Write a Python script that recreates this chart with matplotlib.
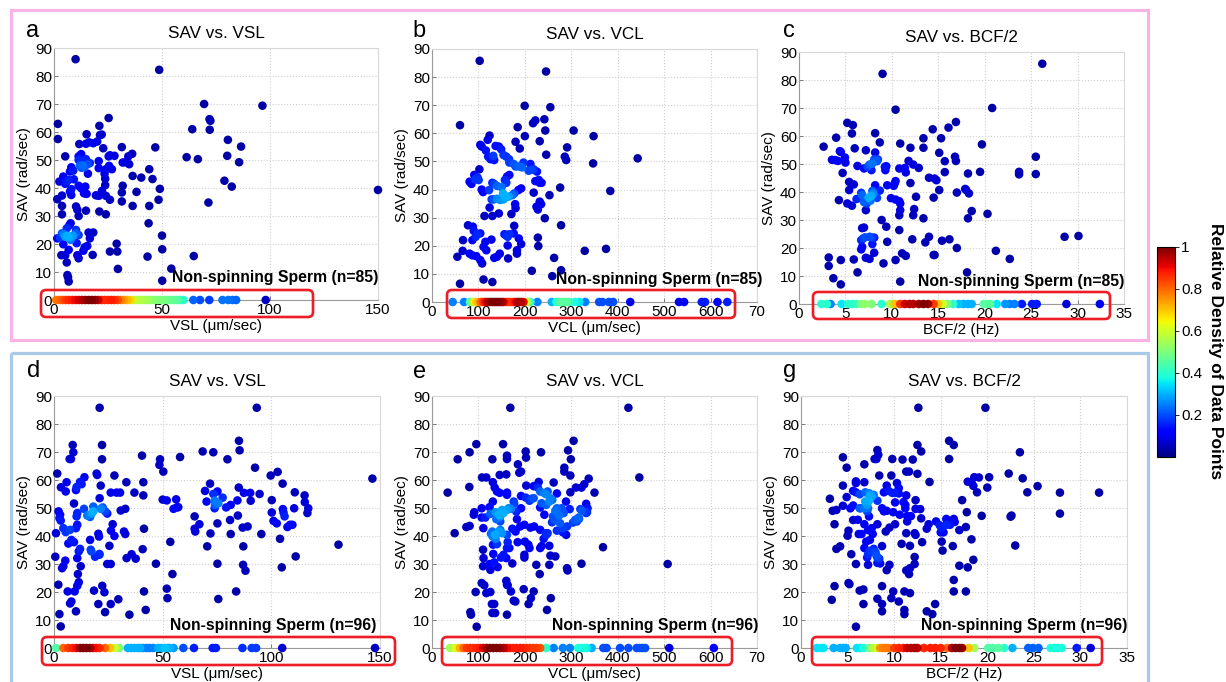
import numpy as np
import matplotlib
matplotlib.use('Agg')
import matplotlib.pyplot as plt
from matplotlib.patches import Rectangle, FancyBboxPatch
from matplotlib.transforms import Affine2D
from matplotlib.colors import Normalize
from matplotlib.cm import ScalarMappable

plt.rcParams['font.family'] = ['Liberation Sans', 'DejaVu Sans']

FIG_W, FIG_H, DPI = 1226, 682, 100

# ---- scatter data: (x, SAV) pairs ----
top_vsl = np.array([
    (10, 86), (48.7, 82.2), (69.5, 70), (96.5, 69.4), (72, 64.6), (72.4, 64), (64, 61), (72.1, 60.8), (80.5, 57.2), (86.6, 54.8),
    (61.4, 51), (66.6, 50.3), (80.2, 51.5), (85.7, 49.2), (78.9, 42.6), (82.3, 40.5), (71.5, 34.8), (150, 39.3), (64.7, 15.7), (25.3, 65),
    (1.8, 62.9), (1.8, 57.5), (46.9, 54.5), (31.4, 54.6), (2.5, 42.3), (1.5, 36), (49, 39.7), (44.1, 46.7), (45.6, 43.2), (40.4, 43.7),
    (38.2, 38.6), (36.4, 33.6), (44.1, 33.6), (48.4, 35.8), (43.8, 27.4), (43.3, 15.5), (50, 23), (50.1, 18.1), (54.3, 11.2), (50.1, 6.9),
    (29, 20.1), (29.3, 17.3), (29.6, 11.1), (25.9, 17.3), (31.4, 38.4), (31.8, 40.8), (31.4, 35.2), (31.8, 49.1), (33, 49.2), (34.8, 48.5),
    (34.4, 51.3), (36.2, 52.2), (36.4, 44.3), (25.9, 35.8), (24, 30.6), (23.7, 43.3), (24, 37.2), (22.2, 39), (20.7, 37.2), (19.4, 37.4),
    (21, 31.6), (22.8, 54.2), (21.3, 58.9), (21, 62.2), (22.1, 59.1), (20, 56.6), (18.2, 56), (16.3, 56.3), (15.1, 59.2), (14.8, 55.8),
    (11.7, 55.7), (14.8, 50.3), (16.6, 48.9), (15.4, 48.4), (12.6, 52.1), (11.4, 51.3), (20.7, 49.6), (20.7, 47.1), (25.3, 51.3), (25.9, 51.7),
    (28, 51.5), (26.8, 46.7), (25.5, 47.9), (24, 46.7), (23.4, 45.1), (23.7, 41), (15.7, 45.1), (13.3, 48), (12, 48), (11.4, 50),
    (8, 47.4), (8.9, 46.2), (7.4, 45.9), (9.2, 43.1), (6.8, 42.9), (5.2, 41.5), (5.9, 42.3), (4.3, 44.1), (5.2, 51.3), (3.7, 37.3),
    (3.7, 33.6), (3.7, 30.6), (8, 39.6), (7.4, 38.7), (8, 37.5), (11.4, 40.8), (12.6, 39.9), (13.9, 38.1), (14.5, 40.5), (15.1, 37.9),
    (10.2, 33.4), (10.8, 32.2), (11.4, 30), (14.8, 31.9), (7.7, 27.4), (7.1, 26.7), (5.9, 25.6), (1.5, 22), (2.8, 22.3), (3.7, 23.8),
    (4.5, 23.5), (5.2, 22.6), (6.2, 22.9), (7.1, 22.3), (7.7, 21.5), (8.8, 23), (4.3, 19.9), (6.8, 17.9), (3.4, 16), (5.2, 16),
    (5.9, 13.4), (6.2, 8.9), (6.5, 8.1), (6.8, 6.6), (10.2, 25), (10.2, 23.8), (11.4, 23.2), (10.5, 20.3), (10.8, 16), (11.4, 14.9),
    (14.2, 18.8), (15.4, 19.3), (13.6, 17.6), (16, 24.1), (18.2, 24.1), (16.6, 22), (17.9, 16.1), (12.8, 47.2), (14, 47.5),
])

top_vcl = np.array([
    (102.7, 85.8), (245.6, 82), (199.6, 69.8), (254.9, 69.3), (60.3, 62.9), (217.6, 63.6), (222.6, 64.6), (242, 65), (184.5, 62.2), (305, 61),
    (244, 61), (348, 59), (200, 59), (104, 55.9), (107, 55.3), (124, 59.2), (120, 57.7), (180, 57), (232, 57.2), (189, 54.6),
    (291, 55), (137, 55.5), (144, 55.3), (149, 54.3), (116, 53.9), (121, 51.7), (126, 50.8), (132, 52), (134, 50.5), (154, 52.3),
    (160, 51.7), (166, 50.8), (166.6, 49.6), (176, 49.1), (180, 48.2), (187, 48.2), (194, 47.9), (197, 49.6), (212, 49.1), (208, 46.7),
    (215, 47), (226, 46.4), (219, 47.2), (246, 52.4), (286, 51.7), (289, 50.5), (347, 49.3), (443, 51.1), (102, 47.2), (91, 45.2),
    (98, 44.3), (81, 42.8), (85, 42), (93, 43.6), (100.5, 43.4), (107, 40), (110, 39.1), (123, 39.8), (130, 42.4), (134, 42),
    (140, 41.3), (150, 40.8), (153, 38.6), (157, 43.4), (160, 42.4), (161.5, 44.6), (166.6, 45.2), (128.5, 36.5), (133, 36.5), (140, 36.7),
    (147, 36.3), (154, 36.5), (159, 37.2), (165, 37.5), (173, 38), (177, 38.6), (186, 39.8), (192, 40.4), (219, 38.9), (232, 42.4),
    (236, 42.4), (222.6, 43), (230, 43.4), (225, 33.9), (228, 32.9), (232, 35.7), (235, 34.8), (253, 38), (243, 29.8), (276, 40.7),
    (384, 39.5), (124, 33.6), (130, 30.6), (113, 30.6), (144, 31.5), (171, 31.3), (179, 34.8), (180, 33.4), (177, 27.1), (176, 24.4),
    (166, 24.1), (159, 23.8), (163, 23.2), (156, 24.1), (163, 20.1), (164, 15.5), (183, 18.4), (183, 17.2), (187, 22.6), (192, 20.6),
    (228, 22.9), (229, 19.9), (278, 27.3), (263, 15.7), (278, 11.3), (215, 11.1), (259, 9.2), (329, 18.2), (374.8, 18.9), (77.5, 27.3),
    (66, 18.2), (54.6, 16.1), (60.3, 6.5), (66.8, 22), (90, 25.3), (88, 26.8), (87, 22), (94, 23.2), (98, 24.1), (104, 24.4),
    (81, 17.2), (87, 16.6), (95.5, 16.3), (104, 14.9), (108, 13.7), (111, 19.6), (117, 18.4), (115, 21.4), (128, 22.2), (134, 15.7),
    (140, 16.1), (146, 17.2), (111, 8), (130, 7.1),
])

top_bcf = np.array([
    (26.2, 85.8), (9, 82.2), (20.8, 70), (10.4, 69.4), (5.2, 64.7), (5.8, 63.9), (16.9, 65), (16.1, 63), (14.4, 62.4), (4, 59.4),
    (5.7, 60.9), (8.2, 61), (13.4, 59.2), (15.3, 59.2), (2.65, 56.2), (8.7, 57.7), (10.9, 57.3), (6, 55.6), (7.2, 54.9), (12, 55.8),
    (13.4, 55.8), (19.7, 57), (4.4, 54.6), (4.5, 54.3), (8.2, 54.1), (15.1, 54), (3.55, 51.5), (3.9, 51.4), (4.2, 51.1), (4.95, 52.3),
    (5, 50.5), (6.3, 49.3), (7.4, 49), (7.6, 49.8), (7.9, 50.2), (8.4, 51), (8.5, 51.6), (8.1, 51.6), (9.25, 49), (9.4, 49.2),
    (9.3, 47.8), (7.8, 47.8), (7, 48.4), (4.7, 46.8), (10.8, 48.4), (11.4, 48.6), (11.5, 47), (11.8, 51.1), (12.3, 49.8), (12.9, 48.6),
    (15.7, 51), (16.8, 52.6), (16.9, 51.1), (25.5, 52.6), (18.2, 46.6), (19.5, 47.2), (23.7, 47.2), (23.7, 46.3), (25.5, 46.4), (15.7, 47.1),
    (14.6, 44.8), (14.8, 44.2), (14, 45.1), (12, 43.2), (10.4, 43.9), (10.3, 43), (10.2, 42.2), (5.4, 43.6), (5.9, 42.7), (5.4, 40.7),
    (8.2, 42.4), (9.5, 42.4), (15.1, 40.7), (17.9, 41.1), (18, 40.7), (18.3, 39.5), (17, 39.8), (8.7, 40.5), (7.9, 40.4), (8, 39.5),
    (7.8, 38.6), (6.7, 39.7), (6.8, 38.9), (7.5, 38), (7.7, 36.9), (7, 36.4), (7.3, 35.9), (8.4, 37.9), (6.2, 37.5), (4.3, 37.1),
    (5.2, 35.9), (5.7, 35.1), (9.9, 37.8), (10.4, 37.3), (10.8, 36.7), (10.9, 35.9), (7.2, 33.5), (10.9, 33.5), (12.4, 33.9), (12.6, 38.3),
    (14.5, 38), (18.6, 33.2), (12.3, 31.7), (10.8, 31.7), (13.4, 30.6), (18.2, 30.6), (20.3, 32.2), (8.9, 30), (9.4, 27.6), (6.8, 27.1),
    (7, 27.3), (10.8, 26.4), (7.6, 24), (7.9, 23.7), (8.1, 23.7), (6.7, 22.8), (6.9, 23.4), (7.1, 23.8), (6.8, 20.4), (6.7, 19.5),
    (7.9, 21.4), (9.5, 22.2), (14, 24), (13.6, 22), (12.2, 23.1), (15.4, 22.6), (16.2, 23.1), (17, 20), (14.6, 17.5), (14.5, 17.5),
    (11.1, 18.1), (11.5, 17.2), (8.1, 18.3), (7.2, 16.5), (7.6, 16.1), (21.2, 19), (22.7, 16.1), (10.4, 15.7), (5.9, 15.9), (4.5, 15.7),
    (9.1, 14.5), (3.2, 16.6), (3.2, 13.6), (3.7, 9.2), (4.5, 7), (6.3, 11.3), (18.1, 11.3), (10.9, 8), (28.6, 24), (30.1, 24.3),
])

bot_vsl = np.array([
    (21, 85.8), (93.3, 85.8), (8.6, 72.5), (8.9, 69.9), (22.1, 72.5), (7.2, 67.5), (7.8, 67.5), (22.1, 67.4), (85.1, 74), (85.4, 70.6),
    (68.4, 70.2), (73.3, 69.9), (79.8, 67.4), (58, 68.2), (40.5, 68.7), (48.8, 67.4), (48.5, 65.4), (50.3, 63), (92.5, 64.4), (99.7, 61.6),
    (102.9, 62.9), (105.2, 58.7), (146.5, 60.5), (1.5, 62.3), (14, 61), (19.6, 62.3), (19.9, 61.8), (21.5, 58), (27.8, 61.6), (33.3, 59.2),
    (41.1, 59.2), (37, 55.5), (41.1, 54.5), (3.2, 57.4), (5.8, 59.2), (12, 59.3), (12.7, 58.5), (10.4, 57.5), (10.1, 56.4), (5.4, 55.9),
    (26.1, 55.5), (28.8, 55.5), (30.4, 55.5), (21, 53.5), (69.5, 56.1), (71.8, 58.7), (75.2, 55.9), (73.3, 55), (73.9, 52.6), (74.1, 51.1),
    (70.2, 52.3), (77.6, 53.7), (85, 57.3), (87.4, 55.4), (90.3, 55.4), (94.6, 55), (84.4, 52.7), (90.5, 52.6), (100.2, 52.8), (110.8, 55.6),
    (115.3, 54.5), (115.4, 52.1), (117, 49.9), (116.6, 48.2), (110.5, 49.9), (105.3, 49.6), (105.6, 48.4), (106.1, 47), (100.2, 48.4), (101, 45.4),
    (102.5, 44.5), (107.4, 43.2), (108.6, 44), (109.7, 44), (104, 39), (95.4, 40.7), (111.2, 32.7), (104.8, 28.8), (130.9, 36.9), (86.8, 43),
    (89.1, 43.4), (81, 45.7), (84.6, 47.3), (81.3, 51.1), (79.2, 50.2), (75.6, 51.7), (73.9, 49.9), (75.2, 44.5), (72, 40.9), (81.3, 40.7),
    (70.5, 36.3), (87.1, 36.3), (87, 29.7), (88.1, 27.6), (75.2, 30.1), (83.8, 20.2), (75.6, 17.5), (64.7, 47), (64.7, 42.6), (65, 41.6),
    (66.9, 44.2), (50, 53), (51.9, 52.7), (56.2, 53.1), (55, 49.7), (56.5, 50.2), (57.2, 50.3), (53.5, 37.9), (54.5, 26.4), (51.9, 21.2),
    (52.2, 17.8), (46.9, 30.1), (41.4, 42.6), (40.8, 35.3), (41.4, 20.2), (42.2, 13.6), (35.7, 33.5), (37.6, 31.9), (33.4, 32.1), (34.7, 11.9),
    (29.6, 17.4), (26.1, 15.7), (23.5, 12.8), (23.2, 19.9), (22.2, 22.2), (18.4, 20.5), (20.4, 15.7), (24.5, 30), (26.1, 30), (25.5, 36.5),
    (27.8, 40), (32.2, 41.6), (32.8, 40.7), (26.2, 41.9), (27, 44.2), (30.7, 49.1), (32.8, 49.7), (23.6, 48.8), (24.5, 48), (21.5, 49.7),
    (22.4, 50.2), (18.1, 50.5), (18.1, 48.8), (15.3, 47.3), (16.6, 46.8), (17.3, 48), (13.8, 49.7), (10.4, 47), (10.7, 48.2), (10.1, 42.8),
    (10.7, 44), (9.2, 51.6), (2.1, 48.8), (2.8, 47.6), (2.5, 46.4), (3.1, 45.5), (4.3, 42.8), (5.4, 41.4), (7.4, 42.2), (0.9, 41),
    (8, 38.6), (9.2, 37.8), (6.6, 37.3), (12, 35.4), (11.4, 34.5), (10.7, 32.1), (12.3, 29.2), (16.6, 38.6), (16.9, 35.1), (17.2, 34.5),
    (18.9, 32.6), (20.9, 33.6), (20.9, 33.3), (20.4, 40.8), (20.7, 39.8), (5.2, 31.2), (4.3, 29.2), (3.7, 28.5), (0.6, 32.6), (11, 26.4),
    (11.4, 23.5), (10.7, 22.2), (9.5, 20.2), (6.3, 20.2), (8, 16.6), (7.4, 15.9), (10.1, 13.1), (2, 22.6), (2.5, 12.1), (3.1, 7.7),
])

bot_vcl = np.array([
    (168.7, 85.8), (423, 85.8), (95.5, 72.8), (153, 72.8), (305, 74), (81, 69.9), (55.3, 67.4), (130, 67.4), (161.5, 68.7), (161.5, 67.5),
    (201.8, 70.2), (202.5, 68), (234.8, 69.9), (293, 70.6), (299, 67.4), (185, 65.6), (191.7, 63), (188, 62.6), (285, 64.4), (285, 63),
    (298, 61.6), (160, 62), (145.8, 61.8), (107.7, 60.9), (117, 60.9), (446.6, 60.9), (33.7, 55.5), (48.8, 41), (80.4, 57.5), (131, 59.2),
    (135, 57.3), (140, 55.9), (145.8, 55.4), (161.5, 55.5), (161.5, 54.7), (191.7, 54.3), (203, 58), (219, 57.8), (229.8, 59.3), (228, 57.3),
    (233, 55.9), (242, 55.3), (249, 55.9), (246, 54.9), (262, 59.1), (269, 55.2), (298, 55.6), (310, 57.3), (322, 57.3), (328, 58.5),
    (337.5, 60.5), (350, 55.5), (332, 51.5), (332, 48.2), (319.5, 49.6), (316, 46.6), (312, 45.2), (316.6, 46.1), (288.6, 52.3), (296.5, 49.6),
    (279, 49.9), (283.6, 48.2), (273.6, 47.3), (269, 49.9), (265.6, 49), (260.6, 47), (263.5, 45.8), (258.5, 44.9), (255, 53.5), (252.7, 52.3),
    (259, 52.9), (246, 51.1), (242, 47.6), (233, 50.2), (236, 51.7), (219, 53.5), (210, 52.6), (214, 53.3), (202, 53.7), (191.7, 49.9),
    (176, 52.3), (177, 51.6), (181.6, 48.7), (165, 49.9), (161.5, 49.3), (170, 49.7), (150.8, 49.3), (154, 48.2), (137, 48.5), (143.6, 47.6),
    (147, 47), (138.6, 46), (124, 50.3), (125.7, 47.9), (131, 52.3), (147, 45.2), (107, 49.9), (107, 46.6), (115, 46.6), (91, 48.5),
    (90, 47.6), (81, 43.6), (74, 43.2), (110.6, 42.8), (183, 46), (180, 41.6), (199, 44), (212, 43), (220, 43.4), (233, 42.2),
    (245, 41), (249, 41), (246, 40.4), (240.5, 39), (233, 35.7), (236, 36.4), (252.7, 36.5), (282, 42.8), (282, 41.3), (269, 41.9),
    (275.7, 44.6), (289, 40.4), (290.8, 43.4), (303.7, 44.8), (308.7, 45.8), (333.9, 48.5), (335, 49.9), (323, 49), (368.3, 36), (507.6, 30),
    (322, 30.1), (292, 27.7), (290.8, 28.5), (265.6, 32.7), (252.7, 29.7), (224.7, 29.7), (232, 26.4), (207.5, 36.9), (210, 35.7), (199, 33.3),
    (199, 32.3), (184.5, 37.8), (200, 38), (190, 43.4), (173, 42.6), (161.5, 40.4), (147, 42.2), (144, 41.6), (150.8, 41), (163, 37.8),
    (161.5, 35.7), (166.6, 35.7), (173, 30.2), (154, 33.3), (160, 32.1), (148.6, 32.3), (135.7, 40.4), (130, 41.6), (130.7, 39.8), (127, 40.8),
    (137, 39), (140, 37.1), (131.4, 36.9), (132, 33.6), (134, 30.6), (141.4, 28.9), (125.7, 27.9), (124, 30), (110, 35.1), (111, 32.1),
    (110, 29.2), (107, 23.2), (112.7, 22.4), (117, 19.6), (125.7, 20), (94, 20), (82.6, 12.8), (84, 11.9), (96.2, 7.6), (130, 12.5),
    (136, 12.5), (129, 15.7), (134, 15.7), (160, 24), (161.5, 22.6), (163, 22.4), (170, 20.2), (161.5, 11.9), (179.5, 16.6), (176, 16.9),
    (197.5, 21), (213, 17.8), (208, 15.7), (219, 20.2), (247.7, 13.6), (256, 17.8), (255, 33),
])

bot_bcf = np.array([
    (12.6, 85.8), (19.8, 85.8), (15.9, 74), (16.4, 72.5), (12.5, 72.5), (12.9, 70.2), (23.5, 69.9), (8.2, 70.7), (8.3, 69), (8.1, 67.5),
    (7.9, 67.5), (4.5, 68.1), (4.9, 64.4), (6.8, 65.6), (9.8, 67.5), (10.9, 67.3), (12, 67.3), (15.9, 67.5), (11.3, 63), (11.6, 63),
    (12.5, 62.2), (8.4, 61.6), (9.7, 61.6), (13.8, 59.3), (22.3, 62.3), (23.8, 60.6), (20.2, 61), (18.6, 61), (19.1, 60.9), (18.3, 59.2),
    (17.9, 59.4), (18.5, 57.9), (18.9, 55.6), (20, 57.3), (24.3, 55.6), (25.4, 57.8), (27.8, 55.5), (32, 55.5), (27.8, 48), (17.3, 52.8),
    (17.8, 48.5), (19.4, 47.2), (22.5, 46.9), (22.6, 47.3), (23, 36.6), (4.5, 58), (5.9, 58.9), (5.9, 59.5), (6.8, 59.2), (3.1, 53.3),
    (3.4, 49), (3.8, 49.3), (3.6, 44.2), (4.9, 53.9), (4.5, 50.8), (5.6, 56.1), (5.9, 55.6), (6.3, 54.9), (5.3, 49.9), (5.6, 50.9),
    (5.6, 45.7), (6.1, 45.8), (6.3, 49.9), (6.4, 49.9), (6.9, 52.3), (7.1, 51.1), (7.3, 52.6), (7.4, 54.7), (6.9, 55.6), (7.3, 55.3),
    (6.8, 49.9), (7.2, 49.9), (7.1, 48.8), (7.3, 47), (7.6, 54.1), (7.4, 54.3), (7.8, 54.7), (8.2, 52.6), (8.7, 49.9), (8.9, 48.8),
    (9.2, 49), (9.9, 48.5), (9.2, 58), (9.4, 56.1), (8.9, 55.6), (9.8, 55.4), (10.1, 55.4), (10.3, 58.9), (10.5, 57.1), (10.5, 55.2),
    (10.1, 52), (10.6, 47.6), (11, 52.1), (11.2, 51.1), (11.2, 49.9), (11.3, 54.5), (11.4, 47.1), (11.8, 47.1), (11.4, 45.2), (12.3, 52.8),
    (12.3, 49.7), (12.8, 49.6), (12.9, 46.3), (13.7, 44.2), (13.5, 42.6), (14.5, 45.2), (14.9, 43.8), (15.1, 42.8), (15, 41.3), (15.3, 41.3),
    (15.6, 46.1), (15.6, 44), (16, 44), (16.4, 46.1), (16.5, 45), (17, 42.1), (17.7, 43.2), (16.3, 36.4), (15.1, 38), (15.2, 34.8),
    (13, 37.8), (11.7, 36.5), (11.3, 41), (12.2, 41), (12.3, 40.4), (10.8, 37.2), (10.1, 44.2), (9.5, 43), (9.1, 41.6), (8.2, 44.2),
    (7.6, 42.8), (7.2, 42.1), (7.7, 40.7), (7.4, 38.6), (7, 38), (6.5, 40.7), (6.2, 40.7), (6.8, 44.2), (5.1, 41.9), (5, 40.1),
    (4.2, 36.3), (3.8, 35.4), (5.4, 33.5), (5.9, 30), (6.8, 35.7), (7.2, 33.5), (7.1, 32.3), (7.4, 34.7), (7.8, 35.4), (8, 34.2),
    (8.1, 33), (8.2, 32.3), (8.4, 31.9), (8.2, 30.4), (8.5, 30.2), (8.7, 36.4), (7.2, 29.7), (9.2, 27.8), (9.5, 29.7), (12.2, 32.5),
    (12.2, 30), (11.3, 27.7), (11.7, 28.5), (11.6, 26.4), (17, 29.4), (17.9, 28.8), (18.5, 31.5), (18.3, 38.8), (16.4, 24.3), (16.4, 20.2),
    (17.7, 20.2), (9.9, 20.2), (9.7, 17.8), (10.5, 16.6), (11.1, 20.2), (11.7, 19.6), (8.7, 22.1), (8.2, 17.6), (8.7, 15.7), (8.7, 13.1),
    (11.1, 13.6), (11.1, 12.1), (13.5, 13.1), (14.1, 12.1), (14.4, 15.7), (6.3, 20.5), (6.7, 20.9), (6.7, 15.7), (5.1, 23.2), (5.2, 22.8),
    (3.6, 22.1), (3.3, 17.2), (5.9, 7.6),
])

# ---- non-spinning sperm strips: (x, relative density) ----
strip_top_vsl = np.array([
    (1, 0.78), (2.5, 0.8), (4, 0.82), (5.5, 0.85), (7, 0.87), (8.5, 0.88), (10, 0.9), (11.5, 0.92), (13, 0.95), (14.5, 0.97),
    (16, 1.0), (17.5, 1.0), (19, 0.98), (20.5, 0.93), (22, 0.87), (23.5, 0.86), (25, 0.87), (26.5, 0.88), (28, 0.86), (29.5, 0.83),
    (31, 0.77), (32.5, 0.74), (34, 0.71), (35.5, 0.68), (37.5, 0.58), (39, 0.57), (40.5, 0.56), (42, 0.55), (43.5, 0.54), (45, 0.52),
    (46.5, 0.51), (48, 0.5), (49.5, 0.5), (51, 0.49), (52.5, 0.48), (54, 0.47), (55.5, 0.47), (57, 0.45), (58.5, 0.42), (60, 0.4),
    (64.5, 0.22), (67.6, 0.2), (71.9, 0.18), (78, 0.24), (80.7, 0.24), (82.7, 0.23), (84.3, 0.22), (98, 0.06),
])
strip_top_vcl = np.array([
    (44.5, 0.25), (69, 0.25), (82, 0.45), (89, 0.6), (95, 0.68), (100, 0.72), (105, 0.8), (110, 0.85), (115, 0.9), (120, 0.95),
    (125, 0.98), (130, 1.0), (135, 1.0), (140, 1.0), (145, 0.98), (150, 0.97), (154, 0.93), (161, 0.86), (166, 0.85), (172, 0.85),
    (177, 0.88), (182, 0.93), (187, 0.96), (192, 0.95), (197, 0.9), (202, 0.62), (207, 0.5), (212, 0.4), (227, 0.25), (258, 0.3),
    (268, 0.38), (274, 0.44), (279, 0.46), (285, 0.46), (290, 0.45), (295, 0.42), (308, 0.38), (317, 0.35), (330, 0.25), (360, 0.2),
    (367, 0.2), (381, 0.2), (390, 0.2), (427, 0.1), (532, 0.1), (543, 0.1), (581, 0.15), (588, 0.15), (615, 0.12), (636, 0.15),
])
strip_top_bcf = np.array([
    (2.4, 0.4), (3.0, 0.4), (3.4, 0.25), (4.6, 0.35), (5.3, 0.4), (5.8, 0.4), (6.2, 0.42), (6.7, 0.5), (7.1, 0.52), (7.8, 0.5),
    (8.9, 0.4), (9.8, 0.55), (10.3, 0.7), (10.9, 0.85), (11.4, 0.93), (11.9, 0.95), (12.3, 0.95), (12.9, 0.97), (13.4, 1.0), (13.9, 0.98),
    (14.5, 0.85), (15, 0.7), (15.5, 0.6), (16, 0.5), (16.6, 0.4), (17.2, 0.32), (17.7, 0.3), (18.2, 0.3), (18.6, 0.3), (19.9, 0.45),
    (20.3, 0.46), (20.6, 0.45), (21.3, 0.35), (22.2, 0.27), (22.7, 0.25), (23.2, 0.25), (24, 0.15), (25.1, 0.15), (25.6, 0.15), (28.8, 0.08),
    (32.4, 0.1),
])
strip_bot_vsl = np.array([
    (0.9, 0.45), (4.3, 0.8), (6.6, 0.85), (8.5, 0.87), (10.4, 0.9), (12, 0.97), (13.5, 1.0), (15, 1.0), (16.6, 0.97), (18, 0.9),
    (19.5, 0.88), (21, 0.87), (23.5, 0.8), (25.8, 0.7), (28, 0.6), (30, 0.5), (34, 0.3), (35.5, 0.3), (37, 0.3), (38.5, 0.3),
    (39.6, 0.3), (41, 0.25), (42.5, 0.25), (44, 0.25), (45.7, 0.25), (48, 0.3), (49.5, 0.3), (51, 0.32), (52.3, 0.3), (53.4, 0.3),
    (55, 0.28), (59.5, 0.2), (64.4, 0.15), (73, 0.15), (74.5, 0.15), (86.7, 0.17), (91, 0.18), (93, 0.18), (105, 0.08), (147.7, 0.06),
])
strip_bot_vcl = np.array([
    (39, 0.55), (50, 0.62), (60, 0.72), (68, 0.8), (75, 0.85), (82, 0.86), (89, 0.86), (96, 0.87), (103, 0.88), (110, 0.92),
    (118, 0.97), (125, 1.0), (132, 1.0), (139, 1.0), (146, 0.98), (154, 0.95), (161, 0.9), (168, 0.88), (175, 0.87), (182, 0.88),
    (190, 0.88), (197, 0.87), (204, 0.86), (211, 0.85), (218, 0.85), (225, 0.84), (233, 0.82), (246, 0.4), (262, 0.25), (282, 0.25),
    (297, 0.25), (315, 0.38), (322, 0.38), (328, 0.38), (333, 0.36), (344, 0.3), (369, 0.2), (376, 0.2), (405, 0.2), (423, 0.2),
    (441, 0.2), (447, 0.2), (453, 0.2), (459, 0.2), (511, 0.08), (607, 0.12),
])
strip_bot_bcf = np.array([
    (1.7, 0.35), (2.1, 0.35), (2.4, 0.35), (3.5, 0.3), (4.2, 0.3), (4.5, 0.3), (4.8, 0.3), (6, 0.35), (6.4, 0.35), (6.7, 0.38),
    (7.3, 0.45), (7.6, 0.55), (7.9, 0.57), (8.2, 0.6), (8.5, 0.75), (8.8, 0.77), (9.1, 0.78), (9.4, 0.78), (10, 0.85), (10.5, 0.87),
    (11, 0.88), (11.4, 0.94), (11.8, 0.95), (12.2, 0.95), (12.5, 0.94), (13.2, 0.87), (13.9, 0.88), (14.4, 0.88), (15, 0.87), (15.7, 0.8),
    (16.2, 0.95), (16.6, 1.0), (17, 1.0), (17.3, 0.98), (18, 0.7), (18.6, 0.55), (20.1, 0.45), (20.6, 0.45), (21.2, 0.45), (21.8, 0.4),
    (22.7, 0.3), (24.4, 0.22), (24.9, 0.22), (25.5, 0.22), (26.8, 0.38), (27.2, 0.38), (27.6, 0.38), (28, 0.38), (29.6, 0.15), (31.1, 0.08),
])

vsl_ticks = [0, 50, 100, 150]
vcl_ticks = [0, 100, 200, 300, 400, 500, 600, 700]
vcl_ticklabels = ['0', '100', '200', '300', '400', '500', '600', '70']
bcf_ticks = [0, 5, 10, 15, 20, 25, 30, 35]
sav_ticks = list(range(0, 91, 10))
cbar_ticks = [0.2, 0.4, 0.6, 0.8, 1.0]
cbar_ticklabels = ['0.2', '0.4', '0.6', '0.8', '1']

# panel layout in pixels: (left, top, right, bottom)
panels = [
    dict(letter='a', pts=top_vsl, strip=strip_top_vsl, xmax=150, ticks=vsl_ticks, labels=None,
         title='SAV vs. VSL', xlabel='VSL (\u03bcm/sec)', n=85, box=(54, 48, 378, 300),
         red=(41, 290, 313, 317), letter_xy=(26, 37), note_x=1.0),
    dict(letter='b', pts=top_vcl, strip=strip_top_vcl, xmax=700, ticks=vcl_ticks, labels=vcl_ticklabels,
         title='SAV vs. VCL', xlabel='VCL (\u03bcm/sec)', n=85, box=(432, 49, 757, 302),
         red=(447, 290, 735, 318), letter_xy=(412, 37), note_x=1.015),
    dict(letter='c', pts=top_bcf, strip=strip_top_bcf, xmax=35, ticks=bcf_ticks, labels=None,
         title='SAV vs. BCF/2', xlabel='BCF/2 (Hz)', n=85, box=(799, 52, 1124, 304),
         red=(813, 292, 1110, 319), letter_xy=(783, 37), note_x=1.0),
    dict(letter='d', pts=bot_vsl, strip=strip_bot_vsl, xmax=150, ticks=vsl_ticks, labels=None,
         title='SAV vs. VSL', xlabel='VSL (\u03bcm/sec)', n=96, box=(54, 396, 380, 648),
         red=(42, 637, 395, 665), letter_xy=(27, 377), note_x=0.99),
    dict(letter='e', pts=bot_vcl, strip=strip_bot_vcl, xmax=700, ticks=vcl_ticks, labels=vcl_ticklabels,
         title='SAV vs. VCL', xlabel='VCL (\u03bcm/sec)', n=96, box=(432, 396, 757, 648),
         red=(442, 637, 732, 665), letter_xy=(413, 378), note_x=1.005),
    dict(letter='g', pts=bot_bcf, strip=strip_bot_bcf, xmax=35, ticks=bcf_ticks, labels=None,
         title='SAV vs. BCF/2', xlabel='BCF/2 (Hz)', n=96, box=(801, 396, 1127, 648),
         red=(812, 637, 1102, 665), letter_xy=(783, 377), note_x=1.0),
]


def px_rect(left, top, right, bottom):
    """Pixel box (origin top-left) -> figure fraction rect"""
    return [left / FIG_W, 1 - bottom / FIG_H, (right - left) / FIG_W, (bottom - top) / FIG_H]


def point_density(pts, xmax, ymax=90, bw=0.025):
    """Gaussian neighbour density of each point in axes-normalised units"""
    xn = pts[:, 0] / xmax
    yn = pts[:, 1] / ymax
    d2 = (xn[:, None] - xn[None, :]) ** 2 + (yn[:, None] - yn[None, :]) ** 2
    k = np.exp(-d2 / (2 * bw ** 2)).sum(axis=1)
    return k / k.max()


def style_axes(ax, p):
    ax.set_xlim(0, p['xmax'])
    ax.set_ylim(0, 90)
    ax.set_xticks(p['ticks'])
    if p['labels'] is not None:
        ax.set_xticklabels(p['labels'])
    ax.set_yticks(sav_ticks)
    ax.grid(True, color='#cfcfcf', linestyle=':', linewidth=0.8)
    ax.set_axisbelow(True)
    ax.tick_params(direction='in', length=3, width=0.6, color='#666666', labelsize=11)
    ax.tick_params(axis='x', pad=2.5)
    ax.tick_params(axis='y', pad=1.5)
    for side in ['left', 'bottom']:
        ax.spines[side].set_color('#9a9a9a')
        ax.spines[side].set_linewidth(0.8)
    for side in ['top', 'right']:
        ax.spines[side].set_color('#d8d8d8')
        ax.spines[side].set_linewidth(0.8)
    ax.set_title(p['title'], fontsize=12.3, pad=7)
    ax.set_xlabel(p['xlabel'], fontsize=11, labelpad=1)
    ax.set_ylabel('SAV (rad/sec)', fontsize=11, labelpad=3)


def draw_panel(fig, p, pix):
    ax = fig.add_axes(px_rect(*p['box']))
    style_axes(ax, p)

    pts = p['pts']
    dens = point_density(pts, p['xmax'])
    cval = 0.03 + 0.27 * dens ** 2
    order = np.argsort(cval)
    ax.scatter(pts[order, 0], pts[order, 1], c=cval[order], cmap='jet', vmin=0, vmax=1,
               s=38, edgecolors='none', clip_on=False, zorder=3)

    strip = p['strip']
    order = np.argsort(strip[:, 1])
    ax.scatter(strip[order, 0], np.zeros(len(strip)), c=strip[order, 1], cmap='jet', vmin=0, vmax=1,
               s=38, edgecolors='none', clip_on=False, zorder=4)

    ax.text(p['note_x'], 8, 'Non-spinning Sperm (n=%d)' % p['n'], transform=ax.get_yaxis_transform(),
            ha='right', va='center', fontsize=11.3, fontweight='bold', zorder=5)

    l, t, r, b = p['red']
    fig.patches.append(FancyBboxPatch((l, t), r - l, b - t, boxstyle='round,pad=0,rounding_size=5',
                                      transform=pix, fill=False, edgecolor='#ee1c24', linewidth=1.9))
    lx, ly = p['letter_xy']
    fig.text(lx / FIG_W, 1 - ly / FIG_H, p['letter'], fontsize=17, va='baseline', ha='left')


def draw():
    fig = plt.figure(figsize=(FIG_W / DPI, FIG_H / DPI), dpi=DPI)
    # pixel coordinates measured from the top-left corner
    pix = Affine2D().scale(1 / DPI, -1 / DPI).translate(0, FIG_H / DPI) + fig.dpi_scale_trans

    fig.patches.append(Rectangle((11, 10), 1137, 330, transform=pix, fill=False,
                                 edgecolor='#f5b3e6', linewidth=2.3))
    fig.patches.append(Rectangle((11, 353), 1137, 340, transform=pix, fill=False,
                                 edgecolor='#a9c9e9', linewidth=2.3))

    for p in panels:
        draw_panel(fig, p, pix)

    cax = fig.add_axes(px_rect(1157, 247, 1175, 457))
    sm = ScalarMappable(norm=Normalize(0, 1), cmap='jet')
    cb = fig.colorbar(sm, cax=cax, ticks=cbar_ticks)
    cb.ax.set_yticklabels(cbar_ticklabels)
    cb.ax.tick_params(labelsize=11, length=3, width=0.6, pad=1.5)
    cb.outline.set_linewidth(0.8)
    fig.text(1216 / FIG_W, 1 - 351 / FIG_H, 'Relative Density of Data Points', rotation=270,
             ha='center', va='center', fontsize=12.5, fontweight='bold')

    fig.savefig('out.png', dpi=DPI)


draw()
